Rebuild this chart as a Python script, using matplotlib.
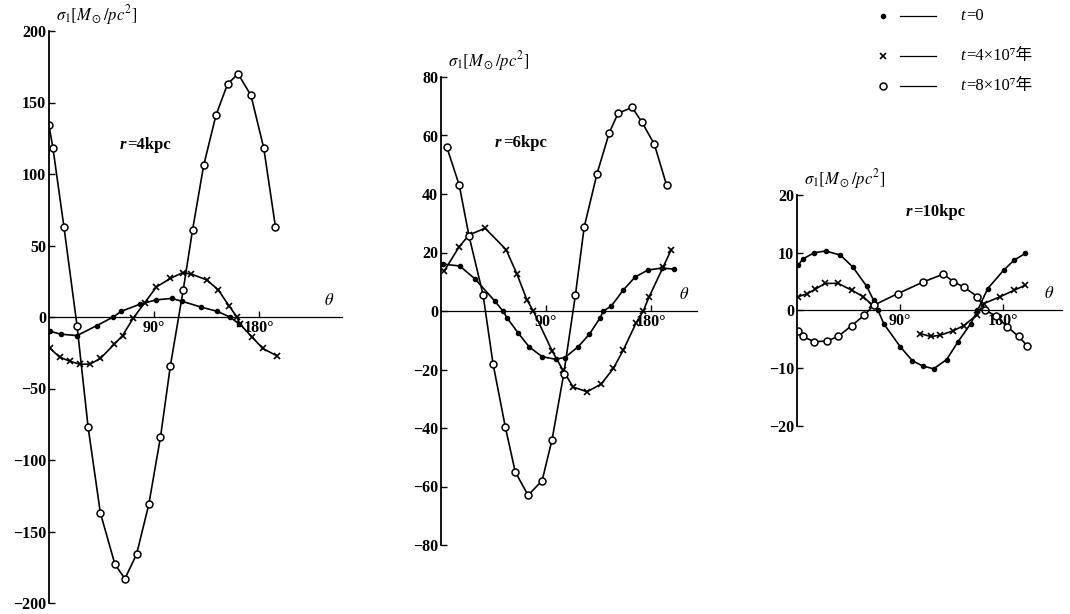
import numpy as np
import matplotlib
matplotlib.use("Agg")
import matplotlib.pyplot as plt
from matplotlib.lines import Line2D

plt.rcParams["mathtext.fontset"] = "stix"
SERIF = ["Liberation Serif", "DejaVu Serif", "Noto Sans CJK SC"]

# ── Données (θ en degrés, σ1 en M⊙/pc²) ────────────────────────────────────

# r = 4 kpc
th4_t0 = [1, 10, 24, 41, 55, 62, 78, 92, 105, 114, 130, 144, 155, 163]
s4_t0 = [-10, -12, -13, -6, 0, 4, 9, 12, 13, 11, 7, 4, 0, -5]
th4_t4 = [1, 9, 18, 26.5, 35, 44, 56, 63, 72, 82, 92, 104, 114.5, 122,
          135, 145, 154, 161, 163.5, 174, 183, 195]
s4_t4 = [-22, -28, -31, -33, -33, -29, -19, -13, -1, 10, 21, 27, 31, 30,
         26, 19, 8, 0, -5, -14, -22, -27]
th4_t8 = [0, 3.4, 12.8, 24, 33.5, 44, 56.5, 65, 75, 85.5, 95.5, 104, 115,
          123, 132.5, 143, 153, 162, 173, 184, 194]
s4_t8 = [134, 118, 63, -6, -77, -137, -173, -183, -166, -131, -84, -34, 19,
         61, 106, 141, 163, 170, 155, 118, 63]

# r = 6 kpc
th6_t0 = [2, 16, 29, 46, 53, 56.6, 66, 75.5, 86.5, 98, 106, 117.4, 127, 136,
          139, 145.7, 156, 166, 177, 189, 199]
s6_t0 = [16, 15.4, 11, 3.4, 0, -2.4, -7.5, -12.3, -15.6, -16.5, -15.9, -12.2,
         -7.9, -2.4, 0, 1.7, 7.2, 11.6, 14, 14.7, 14.3]
th6_t4 = [2.6, 15.6, 24, 37.7, 55.7, 65, 73.5, 79, 95, 104, 113, 125, 137,
          147.5, 156, 167, 173, 178, 190, 197]
s6_t4 = [13.6, 22, 26, 28.3, 21, 12.6, 3.8, 0, -13.6, -20, -26, -27.6, -25,
         -19.6, -13.3, -4, 0, 4.8, 15, 21]
th6_t8 = [5, 15.6, 24, 36, 44.5, 55, 63.5, 74.5, 86.5, 95, 105, 115, 122.5,
          133.5, 144, 151.5, 163.5, 172, 182.5, 193]
s6_t8 = [56, 43, 25.6, 5.5, -18, -39.6, -55, -63, -58, -44, -21.5, 5.5, 28.7,
         47, 61, 67.6, 69.6, 64.5, 57, 43]

# r = 10 kpc (la courbe t=4e7 est interrompue sur le tirage original)
th10_t0 = [1, 5, 15, 25, 38, 49, 61, 67, 71, 76, 90.5, 101, 110, 119.6, 131,
           141, 152, 158, 167, 181, 190, 200]
s10_t0 = [7.8, 8.9, 10, 10.3, 9.6, 7.5, 4.2, 1.8, 0, -2.3, -6.3, -8.7, -9.6,
          -10.1, -8.5, -5.4, -2.3, 0, 3.8, 7, 8.7, 9.9]
th10_t4 = [1, 9, 16, 24.7, 36, 48, 58, 66, np.nan, 108, 117, 125, 137, 146,
           158, 163.5, 178, 190, 200]
s10_t4 = [2.4, 2.9, 3.7, 4.7, 4.7, 3.5, 2.4, 0.9, np.nan, -4, -4.5, -4.3, -3.5,
          -2.6, -0.7, 1.2, 2.4, 3.5, 4.4]
th10_t8 = [1, 5, 15, 26, 36, 48, 59, 67, 88, 110, 128, 137, 146.5, 158, 165,
           174, 184, 194, 201.5]
s10_t8 = [-3.6, -4.5, -5.4, -5.3, -4.5, -2.6, -0.8, 0.9, 2.9, 4.9, 6.3, 5.0,
          4.0, 2.4, 0, -0.9, -2.8, -4.5, -6.1]

legend_labels = ["=0", "=4×10⁷年", "=8×10⁷年"]
styles = [dict(marker="o", ms=3, mfc="k", mec="k"),
          dict(marker="x", ms=5, mew=1.2, mec="k"),
          dict(marker="o", ms=5, mfc="white", mec="k", mew=1.1)]

panels = [
    # (rect, xmax, ymax, yticks, r label, label pos, data)
    ([49/1070, 1-603/614, 293/1070, 572/614], 251, 200, range(-200, 201, 50),
     "=4kpc", (0.24, 0.80),
     [(th4_t0, s4_t0), (th4_t4, s4_t4), (th4_t8, s4_t8)]),
    ([441/1070, 1-545/614, 256/1070, 468/614], 219, 80, range(-80, 81, 20),
     "=6kpc", (0.21, 0.86),
     [(th6_t0, s6_t0), (th6_t4, s6_t4), (th6_t8, s6_t8)]),
    ([797/1070, 1-426/614, 265/1070, 231/614], 232, 20, range(-20, 21, 10),
     "=10kpc", (0.41, 0.925),
     [(th10_t0, s10_t0), (th10_t4, s10_t4), (th10_t8, s10_t8)]),
]

fig = plt.figure(figsize=(10.7, 6.14), dpi=100)

for rect, xmax, ymax, yticks, rlab, rpos, series in panels:
    ax = fig.add_axes(rect)
    for (th, s), st in zip(series, styles):
        ax.plot(th, s, color="k", lw=1.2, **st)
    ax.set_xlim(0, xmax)
    ax.set_ylim(-ymax, ymax)
    for sp in ("top", "right"):
        ax.spines[sp].set_visible(False)
    ax.spines["bottom"].set_position(("data", 0))
    ax.spines["left"].set_linewidth(1.3)
    ax.spines["bottom"].set_linewidth(0.9)
    ax.set_xticks([90, 180])
    ax.set_xticklabels(["90°", "180°"])
    ax.set_yticks(list(yticks))
    ax.tick_params(direction="in", length=4, width=1, labelsize=11.5, pad=2)
    for lab in ax.get_xticklabels() + ax.get_yticklabels():
        lab.set_family(SERIF)
        lab.set_fontweight("bold")
    ax.annotate(r"$\sigma_1[M_\odot/pc^2]$", xy=(0, 1), xycoords="axes fraction",
                xytext=(5, 3), textcoords="offset points", fontsize=12,
                va="bottom", ha="left")
    ax.annotate(r"$\theta$", xy=(1, 0), xycoords=("axes fraction", "data"),
                xytext=(-9, 6), textcoords="offset points", fontsize=12,
                va="bottom", ha="center")
    t = ax.text(*rpos, "r", transform=ax.transAxes, fontsize=12,
                fontweight="bold", family=SERIF, style="italic", va="center")
    ax.annotate(rlab, xy=(1, 0.5), xycoords=t, xytext=(1, 0),
                textcoords="offset points", fontsize=12, fontweight="bold",
                family=SERIF, va="center")
    ax.patch.set_alpha(0)

# ── Légende (coin supérieur droit) ──────────────────────────────────────────
for (ym, st, lab) in zip([16, 56, 86], styles, legend_labels):
    y = 1 - ym / 614
    fig.add_artist(Line2D([883/1070], [y], transform=fig.transFigure,
                          color="k", ls="none", **st))
    fig.add_artist(Line2D([900/1070, 936/1070], [y, y],
                          transform=fig.transFigure, color="k", lw=0.9))
    t = fig.text(960/1070, y, "t", fontsize=12, family=SERIF,
                 style="italic", va="center")
    fig.add_artist(plt.Annotation(lab, xy=(1, 0.5), xycoords=t, xytext=(1, 0),
                                  textcoords="offset points", fontsize=12,
                                  family=SERIF, va="center",
                                  annotation_clip=False))

fig.savefig("out.png", dpi=100)
